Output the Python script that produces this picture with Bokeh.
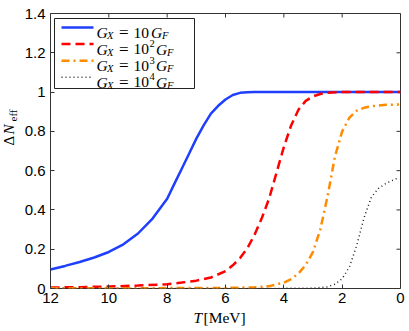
import math
from bokeh.plotting import figure
from bokeh.models import Range1d, FixedTicker, Label, BoxAnnotation
from bokeh.embed import file_html
from bokeh.resources import INLINE

# ---- data ----
T_blue = [12, 11.5, 11, 10.5, 10, 9.5, 9, 8.5, 8, 7.75, 7.5, 7.25, 7, 6.75, 6.5, 6.25, 6, 5.75, 5.5, 5.25, 5, 4, 2, 0]
N_blue = [0.097, 0.115, 0.135, 0.158, 0.186, 0.225, 0.28, 0.356, 0.457, 0.534, 0.61, 0.686, 0.763, 0.83,
          0.89, 0.93, 0.962, 0.985, 0.996, 0.999, 1.0, 1.0, 1.0, 1.0]

T_red = [12, 11, 10, 9, 8, 7.5, 7, 6.5, 6, 5.75, 5.5, 5.25, 5, 4.75, 4.5, 4.25, 4, 3.75, 3.5, 3.25, 3, 2.75, 2.5, 2, 0]
N_red = [0.005, 0.007, 0.01, 0.015, 0.022, 0.03, 0.04, 0.056, 0.088, 0.118, 0.155, 0.205, 0.275, 0.36,
         0.46, 0.59, 0.72, 0.83, 0.91, 0.955, 0.978, 0.99, 0.997, 1.0, 1.0]

T_orange = [12, 10, 8, 6, 5, 4.5, 4, 3.75, 3.5, 3.25, 3, 2.75, 2.5, 2.25, 2, 1.75, 1.5, 1.25, 1, 0.5, 0.05]
N_orange = [0.001, 0.001, 0.002, 0.003, 0.006, 0.012, 0.03, 0.048, 0.076, 0.12, 0.186, 0.30, 0.47, 0.67,
            0.80, 0.87, 0.905, 0.92, 0.928, 0.935, 0.937]

T_black = [12, 8, 4, 3, 2.5, 2.25, 2, 1.75, 1.5, 1.25, 1, 0.75, 0.5, 0.25, 0.12]
N_black = [0.0, 0.0, 0.0005, 0.002, 0.008, 0.022, 0.05, 0.11, 0.22, 0.36, 0.465, 0.51, 0.535, 0.552, 0.56]

x_ticks = [0, 2, 4, 6, 8, 10, 12]
y_ticks = [0, 0.2, 0.4, 0.6, 0.8, 1, 1.2, 1.4]
y_tick_labels = ["0", "0.2", "0.4", "0.6", "0.8", "1", "1.2", "1.4"]

exponents = ["", "2", "3", "4"]

# ---- figure ----
X_START, X_END = 12, 0
Y_START, Y_END = 0, 1.4
FW, FH = 350, 275

p = figure(frame_width=FW, frame_height=FH,
           x_range=Range1d(X_START, X_END), y_range=Range1d(Y_START, Y_END),
           output_backend="svg", toolbar_location=None,
           min_border_left=50, min_border_right=9, min_border_top=13, min_border_bottom=43)
p.xgrid.visible = False
p.ygrid.visible = False
p.background_fill_color = "white"
p.border_fill_color = "white"
p.outline_line_color = "#333333"
p.outline_line_width = 1

AX = "#333333"
TICK_FONT = "Liberation Sans"
MATH_FONT = "Liberation Serif"

for ax, standoff in ((p.xaxis[0], 4), (p.yaxis[0], 5)):
    ax.axis_line_color = None
    ax.major_tick_in = 4
    ax.major_tick_out = 0
    ax.minor_tick_line_color = None
    ax.major_tick_line_color = AX
    ax.major_label_text_color = "black"
    ax.major_label_text_font = TICK_FONT
    ax.major_label_text_font_size = "15px"
    ax.major_label_standoff = standoff

p.xaxis.ticker = FixedTicker(ticks=x_ticks)
p.yaxis.ticker = FixedTicker(ticks=y_ticks)
p.yaxis.major_label_overrides = {t: s for t, s in zip(y_ticks, y_tick_labels)}

# helpers: pixel offsets from frame top-left -> data coords
def dx(px):
    return X_START + (X_END - X_START) * px / FW

def dy(py):
    return Y_END - (Y_END - Y_START) * py / FH

# ticks on the top and right frame edges (inward)
p.segment(x0=x_ticks, y0=[Y_END] * len(x_ticks), x1=x_ticks, y1=[dy(4)] * len(x_ticks),
          line_color=AX, line_width=1)
p.segment(x0=[X_END] * len(y_ticks), y0=y_ticks, x1=[dx(FW - 4)] * len(y_ticks), y1=y_ticks,
          line_color=AX, line_width=1)

# ---- curves ----
p.line(T_blue, N_blue, line_color="#1f3fff", line_width=2.5)
p.line(T_red, N_red, line_color="#ff0000", line_width=2.5, line_dash="9 5")
p.line(T_orange, N_orange, line_color="#ff8c00", line_width=2.5, line_dash="8 4 2 4")
p.line(T_black, N_black, line_color="#222222", line_width=1.5, line_dash="1 3")

# ---- legend (manual, to allow sub/superscripts) ----
p.add_layout(BoxAnnotation(left=dx(4), right=dx(144), top=dy(5), bottom=dy(75),
                           fill_color="white", fill_alpha=1.0,
                           line_color="#222222", line_width=1, line_alpha=1.0))

styles = [
    dict(line_color="#1f3fff", line_width=2.5),
    dict(line_color="#ff0000", line_width=2.5, line_dash="9 5"),
    dict(line_color="#ff8c00", line_width=2.5, line_dash="8 4 2 4"),
    dict(line_color="#222222", line_width=1.5, line_dash="1 3"),
]
row_y = [14.0, 30.6, 47.2, 63.8]
for i, st in enumerate(styles):
    yc = dy(row_y[i])
    r = p.segment(x0=[dx(11)], y0=[yc], x1=[dx(43)], y1=[yc], **st)
    r.level = "overlay"
    tx = dx(46)

    def lab(text, off, yoff, size="15.5px", style="italic"):
        p.add_layout(Label(x=tx, y=yc, text=text, x_offset=off, y_offset=yoff,
                           text_font=MATH_FONT, text_font_size=size, text_font_style=style,
                           text_color="black", text_align="left", text_baseline="alphabetic"))

    lab("G", 0, -5)
    lab("X", 10.5, -8, size="10.5px")
    lab("=", 22.5, -5, size="17px", style="normal")
    lab("10", 37, -5, style="normal")
    e = exponents[i]
    if e:
        lab(e, 53, 0.5, size="10.5px", style="normal")
        lab("G", 59.5, -5)
        lab("F", 70.5, -8, size="10.5px")
    else:
        lab("G", 54.5, -5)
        lab("F", 65.5, -8, size="10.5px")

# ---- axis labels, placed in the lower side panel so the frame does not clip them ----
xl_x, xl_y = dx(143), dy(304)
p.add_layout(Label(x=xl_x, y=xl_y, text="T", text_font=MATH_FONT, text_font_size="15.5px",
                   text_font_style="italic", text_color="black",
                   text_baseline="alphabetic", text_align="left"), "below")
p.add_layout(Label(x=xl_x, y=xl_y, x_offset=10, text="[MeV]", text_font=MATH_FONT,
                   text_font_size="15.5px", text_color="black",
                   text_baseline="alphabetic", text_align="left"), "below")

ang = math.pi / 2
yl_x, yl_y = dx(-42), dy(132)
p.add_layout(Label(x=yl_x, y=yl_y, text="\u0394", angle=ang, text_font=MATH_FONT,
                   text_font_size="15px", text_color="black",
                   text_baseline="alphabetic", text_align="left"), "below")
p.add_layout(Label(x=yl_x, y=yl_y, y_offset=11, text="N", angle=ang, text_font=MATH_FONT,
                   text_font_size="15px", text_font_style="italic", text_color="black",
                   text_baseline="alphabetic", text_align="left"), "below")
p.add_layout(Label(x=yl_x, y=yl_y, x_offset=4, y_offset=24, text="eff", angle=ang,
                   text_font=MATH_FONT, text_font_size="11px", text_color="black",
                   text_baseline="alphabetic", text_align="left"), "below")

open("out.html", "w").write(file_html(p, INLINE))
